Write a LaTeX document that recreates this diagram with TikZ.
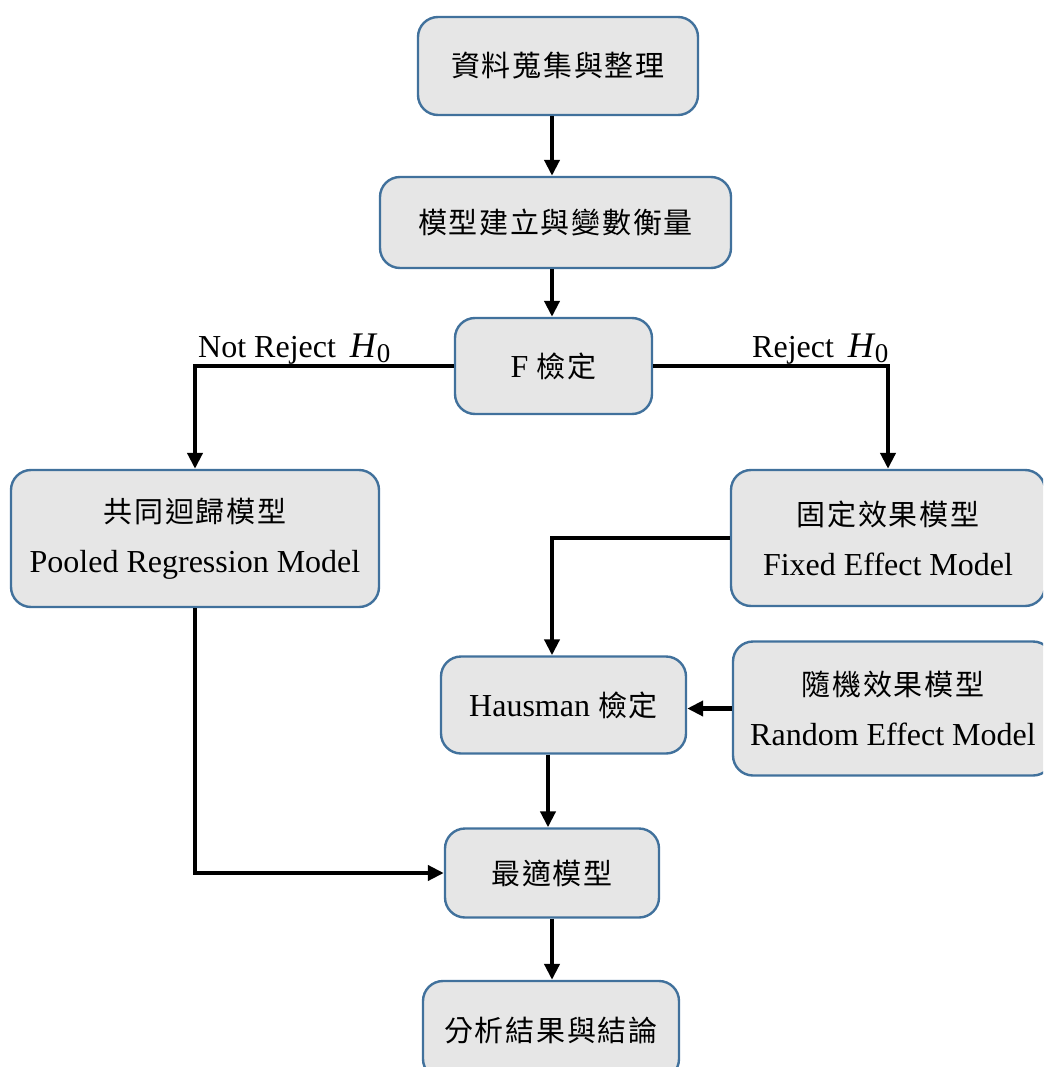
\documentclass[tikz,border=0pt]{standalone}
\usepackage{fontspec}
\setmainfont{Liberation Serif}
\newfontfamily\cjk[LetterSpace=6]{Noto Sans CJK TC}
\usetikzlibrary{arrows.meta}
\definecolor{boxfill}{RGB}{230,230,230}
\definecolor{boxline}{RGB}{65,113,156}
\newcommand\zh[1]{{\cjk\fontsize{29}{50}\selectfont #1}}
\newcommand\hzero{{\fontsize{36}{40}\selectfont\itshape H}\kern1pt\raisebox{-5pt}{\fontsize{27}{30}\selectfont 0}}
\tikzset{
  box/.style={draw=boxline, fill=boxfill, line width=2.4pt, rounded corners=20pt,
    inner sep=0pt, align=center, font=\fontsize{32}{50}\selectfont},
  conn/.style={line width=4.3pt, -{Triangle[length=16pt,width=15pt]}},
  lbl/.style={anchor=base west, inner sep=0pt, font=\fontsize{32}{38}\selectfont},
}
\begin{document}
\begin{tikzpicture}[x=1pt,y=-1pt]
\useasboundingbox (0,0) rectangle (1043,1067);
\clip (0,0) rectangle (1043,1067);
\node[box, minimum width=280pt, minimum height=98pt] (A) at (558,66) {\zh{資料蒐集與整理}};
\node[box, minimum width=351pt, minimum height=91pt] (B) at (555.5,222.5) {\zh{模型建立與變數衡量}};
\node[box, minimum width=197pt, minimum height=96pt] (F) at (553.5,366) {F \zh{檢定}};
\node[box, minimum width=368pt, minimum height=137pt] (P) at (195,538.5) {\zh{共同迴歸模型}\\Pooled Regression Model};
\node[box, minimum width=314pt, minimum height=136pt] (FE) at (888,538) {\zh{固定效果模型}\\Fixed Effect Model};
\node[box, minimum width=245pt, minimum height=97pt] (H) at (563.5,705) {Hausman \zh{檢定}};
\node[box, minimum width=320pt, minimum height=134pt] (RE) at (893,708.5) {\zh{隨機效果模型}\\Random Effect Model};
\node[box, minimum width=214pt, minimum height=89pt] (O) at (552,873) {\zh{最適模型}};
\node[box, minimum width=256pt, minimum height=98pt] (R) at (551,1030) {\zh{分析結果與結論}};
\coordinate (xa) at (552,0);
\coordinate (xb) at (548,0);
\draw[conn] (A.south -| xa) -- (B.north -| xa);
\draw[conn] (B.south -| xa) -- (F.north -| xa);
\draw[conn] (F.west) -| (P.north);
\draw[conn] (F.east) -| (FE.north);
\draw[conn] (FE.west) -| (H.north -| xa);
\draw[conn] (RE.west) -- (RE.west -| H.east);
\draw[conn] (P.south) |- (O.west);
\draw[conn] (H.south -| xb) -- (O.north -| xb);
\draw[conn] (O.south -| xa) -- (R.north -| xa);
\node[lbl] (nr) at (198,357) {Not Reject\hspace{14pt}\hzero};
\node[lbl] (rj) at (752,357) {Reject\hspace{14pt}\hzero};
\end{tikzpicture}
\end{document}
